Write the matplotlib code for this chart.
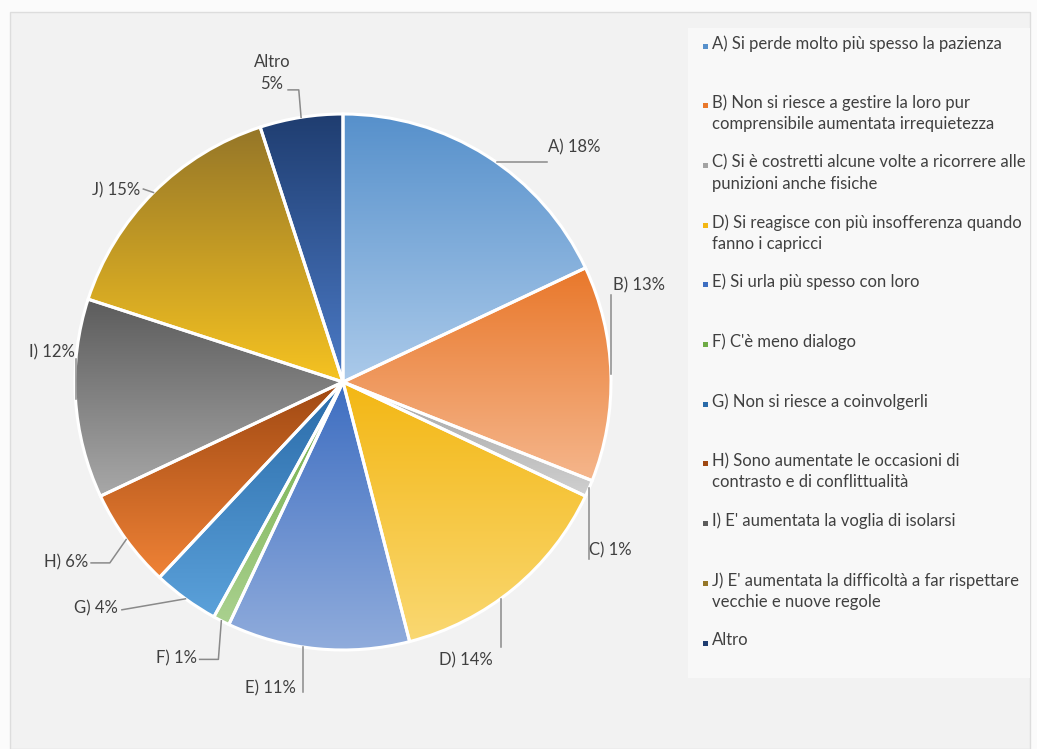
import numpy as np
import matplotlib
matplotlib.use('Agg')
import matplotlib.pyplot as plt
from matplotlib.colors import LinearSegmentedColormap
from matplotlib.patches import Rectangle

plt.rcParams['font.family'] = ['Lato', 'DejaVu Sans']

# Risposte e percentuali
labels = ['A)', 'B)', 'C)', 'D)', 'E)', 'F)', 'G)', 'H)', 'I)', 'J)', 'Altro']
values = [18, 13, 1, 14, 11, 1, 4, 6, 12, 15, 5]
legend_texts = [
    'A) Si perde molto più spesso la pazienza',
    'B) Non si riesce a gestire la loro pur\ncomprensibile aumentata irrequietezza',
    'C) Si è costretti alcune volte a ricorrere alle\npunizioni anche fisiche',
    'D) Si reagisce con più insofferenza quando\nfanno i capricci',
    'E) Si urla più spesso con loro',
    "F) C'è meno dialogo",
    'G) Non si riesce a coinvolgerli',
    'H) Sono aumentate le occasioni di\ncontrasto e di conflittualità',
    "I) E' aumentata la voglia di isolarsi",
    "J) E' aumentata la difficoltà a far rispettare\nvecchie e nuove regole",
    'Altro',
]

# gradient (top, bottom) per slice
grads = [
    ('#5690cb', '#abcaea'),
    ('#e9782b', '#f5b68c'),
    ('#a3a3a3', '#d0d0d0'),
    ('#f3b714', '#fad872'),
    ('#3e6ec1', '#90acdc'),
    ('#6eab45', '#aad18f'),
    ('#2a6ba9', '#5ba1da'),
    ('#9f4812', '#ef8236'),
    ('#5c5c5c', '#a8a8a8'),
    ('#957628', '#f6c321'),
    ('#1f3d70', '#4c7bc7'),
]

W, H = 1037, 749
fig = plt.figure(figsize=(W / 100, H / 100), dpi=100, facecolor='#fbfbfb')


def fpx(x, y):
    return x / W, 1 - y / H


# chart area and legend panel (behind the axes)
x0, y0 = fpx(10, 12)
fig.patches.append(Rectangle((x0, 0), 1030 / W - x0, y0, transform=fig.transFigure,
                             facecolor='#f2f2f2', edgecolor='#dddddd', lw=1, zorder=-10))
lx, ly = fpx(688, 678)
fig.patches.append(Rectangle((lx, ly), (1030 - 688) / W, (678 - 28) / H,
                             transform=fig.transFigure, facecolor='#f8f8f8',
                             edgecolor='none', zorder=-9))

# pie axes: centre at (343, 382) px, radius 268 px
cx, cy, R = 343, 382, 268
half = 300
ax = fig.add_axes([(cx - half) / W, (H - cy - half) / H, 2 * half / W, 2 * half / H])
ax.patch.set_visible(False)
ax.axis('off')

wedges, _ = ax.pie(values, startangle=90, counterclock=False, radius=1,
                   wedgeprops=dict(edgecolor='white', linewidth=2.2))

grad = np.linspace(0, 1, 256).reshape(-1, 1)
for w, (ctop, cbot) in zip(wedges, grads):
    bb = w.get_path().get_extents()
    cmap = LinearSegmentedColormap.from_list('g', [cbot, ctop])
    im = ax.imshow(grad, cmap=cmap, origin='lower', aspect='auto',
                   extent=(bb.x0, bb.x1, bb.y0, bb.y1), zorder=1,
                   interpolation='bilinear')
    im.set_clip_path(w)
    w.set_facecolor('none')
    w.set_zorder(2)
ax.set_xlim(-half / R, half / R)
ax.set_ylim(-half / R, half / R)
ax.set_aspect('equal')

# label layout: text position, alignment, where the leader leaves the arc
# (fraction across the slice), and leader points after the edge point
layout = [
    ((0.765, 0.877), 'left', 0.54, [(0.76, None)]),
    ((1.006, 0.362), 'left', 0.5, [(None, 0.325)]),
    ((0.918, -0.627), 'left', 0.5, [(None, -0.66)]),
    ((0.46, -1.037), 'center', 0.57, [(None, -0.99)]),
    ((-0.175, -1.142), 'right', 0.58, [(None, -1.155)]),
    ((-0.545, -1.03), 'right', 0.5, [(-0.465, -1.035), (-0.535, -1.035)]),
    ((-0.84, -0.843), 'right', 0.5, [(-0.825, -0.85)]),
    ((-0.95, -0.672), 'right', 0.5, [(-0.87, -0.675), (-0.94, -0.675)]),
    ((-1.0, 0.112), 'right', 0.5, [(None, 0.085)]),
    ((-0.757, 0.716), 'right', 0.5, [(-0.745, 0.72)]),
    ((-0.265, 1.153), 'center', 0.5, [(-0.165, 1.09), (-0.205, 1.09)]),
]

cum = np.cumsum([0] + values)
for i, (lab, v) in enumerate(zip(labels, values)):
    (tx, ty), ha, frac, pts = layout[i]
    ang = np.deg2rad(90 - 3.6 * (cum[i] + v * frac))
    ex, ey = np.cos(ang), np.sin(ang)
    xs, ys = [ex], [ey]
    for px_, py_ in pts:
        xs.append(ex if px_ is None else px_)
        ys.append(ey if py_ is None else py_)
    ax.plot(xs, ys, color='#8a8a8a', lw=1.1, zorder=3, clip_on=False)
    txt = f'{lab}\n{v}%' if lab == 'Altro' else f'{lab} {v}%'
    ax.text(tx, ty, txt, ha=ha, va='center', fontsize=12, color='#404040',
            linespacing=1.5, clip_on=False)

# legend
for i, (t, (ctop, cbot)) in enumerate(zip(legend_texts, grads)):
    ytop = 45 + i * 59.7
    mx, my = fpx(705, ytop + 1)
    fig.patches.append(Rectangle((mx - 2.5 / W, my - 2.5 / H), 5 / W, 5 / H,
                                 transform=fig.transFigure, facecolor=ctop,
                                 edgecolor='none'))
    tx, ty = fpx(712, ytop - 10)
    fig.text(tx, ty, t, ha='left', va='top', fontsize=12, color='#404040',
             linespacing=1.4)

fig.savefig('out.png', dpi=100, facecolor=fig.get_facecolor())
